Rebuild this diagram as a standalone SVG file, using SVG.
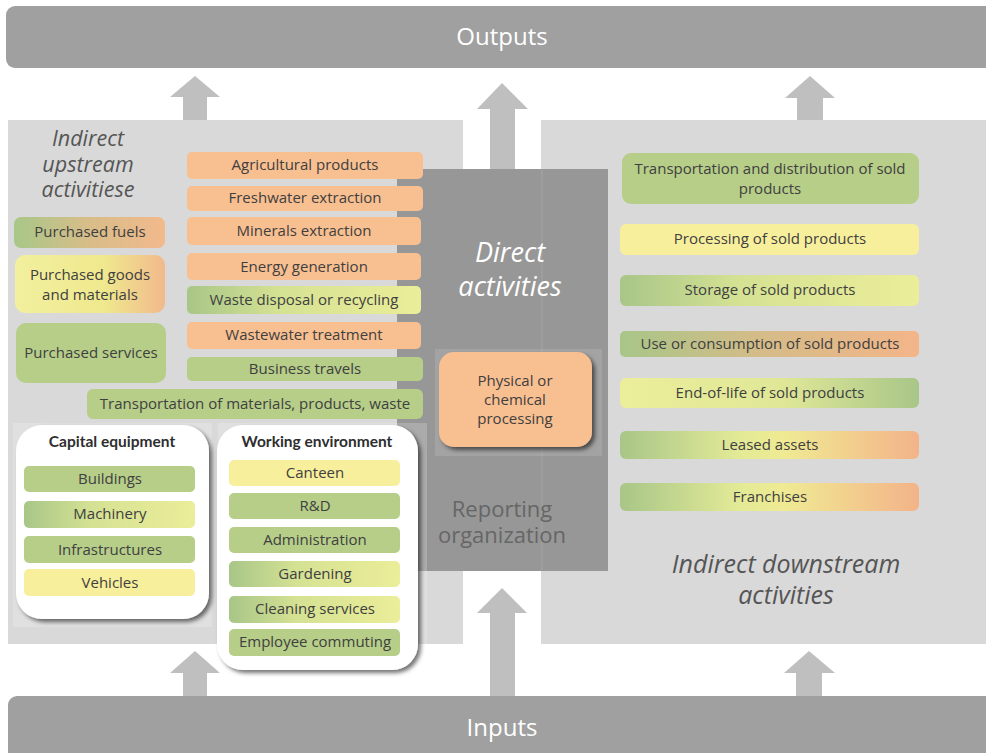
<svg xmlns="http://www.w3.org/2000/svg" width="986" height="753" viewBox="0 0 986 753">
<style>
.t{font-family:"Open Sans","Liberation Sans",sans-serif;font-size:15px;fill:#404040;text-anchor:middle}
.tb{font-family:Lato,"Open Sans","Liberation Sans",sans-serif;font-size:15.5px;font-weight:bold;fill:#2e2e2e;text-anchor:middle}
.big{font-family:"Open Sans","Liberation Sans",sans-serif;font-size:24px;fill:#ffffff;text-anchor:middle}
.it{font-family:"Open Sans","Liberation Sans",sans-serif;font-style:italic;fill:#555555;text-anchor:middle}
.green{fill:#b6ce88}
.orange{fill:#f8bf90}
.yellow{fill:#f8ef9c}
.arrow{fill:#bfbfbf}
.panel{fill:#d9d9d9}
.bar{fill:#a0a0a0}
</style>
<defs>
<linearGradient id="gFuels" x1="0" y1="0" x2="1" y2="0"><stop offset="0" stop-color="#a8c788"/><stop offset="0.5" stop-color="#d8bd89"/><stop offset="1" stop-color="#f2b98c"/></linearGradient>
<linearGradient id="gGoods" x1="0" y1="0" x2="1" y2="0"><stop offset="0" stop-color="#f2f09e"/><stop offset="0.6" stop-color="#efe88e"/><stop offset="1" stop-color="#f2b98c"/></linearGradient>
<linearGradient id="gGY" x1="0" y1="0" x2="1" y2="0"><stop offset="0" stop-color="#a8c688"/><stop offset="0.4" stop-color="#d5e293"/><stop offset="1" stop-color="#ebed99"/></linearGradient>
<linearGradient id="gGO" x1="0" y1="0" x2="1" y2="0"><stop offset="0" stop-color="#a8c688"/><stop offset="0.45" stop-color="#d3bc88"/><stop offset="1" stop-color="#f3b589"/></linearGradient>
<linearGradient id="gYG" x1="0" y1="0" x2="1" y2="0"><stop offset="0" stop-color="#ecee9a"/><stop offset="0.55" stop-color="#dfe797"/><stop offset="1" stop-color="#a8c688"/></linearGradient>
<linearGradient id="gGYO" x1="0" y1="0" x2="1" y2="0"><stop offset="0" stop-color="#a8c688"/><stop offset="0.4" stop-color="#e3ea96"/><stop offset="0.55" stop-color="#f0ea93"/><stop offset="1" stop-color="#f3b389"/></linearGradient>
<filter id="sh" x="-10%" y="-10%" width="130%" height="130%"><feDropShadow dx="3" dy="3" stdDeviation="2" flood-color="#000" flood-opacity="0.55"/></filter>
</defs>

<g id="outputs">
<rect class="bar" x="6" y="6" width="990" height="62" rx="9"/>
<text class="big" x="502" y="45">Outputs</text>
</g>
<g id="inputs">
<rect class="bar" x="8" y="696" width="990" height="70" rx="9"/>
<text class="big" x="502" y="736">Inputs</text>
</g>

<g id="upstream-panel">
<rect class="panel" x="8" y="120" width="455" height="524"/>
<text class="it" font-size="21.5"><tspan x="88" y="146">Indirect</tspan><tspan x="88" y="172">upstream</tspan><tspan x="88" y="197">activitiese</tspan></text>
</g>
<g id="downstream-panel">
<rect class="panel" x="541" y="120" width="450" height="524"/>
<text class="it" font-size="25"><tspan x="786" y="573">Indirect downstream</tspan><tspan x="786" y="604">activities</tspan></text>
</g>

<g id="connectors">
<polygon class="arrow" points="183,120 183,97 170,97 195,76 220,97 207,97 207,120"/>
<polygon class="arrow" points="490,170 490,109 477,109 502,83 528,109 515,109 515,170"/>
<polygon class="arrow" points="797,120 797,98 785,98 810,76 835,98 823,98 823,120"/>
<polygon class="arrow" points="183,696 183,673 170,673 195,651 220,673 207,673 207,696"/>
<polygon class="arrow" points="490,696 490,613 477,613 502,588 527,613 515,613 515,696"/>
<polygon class="arrow" points="796,696 796,673 784,673 809,651 835,673 822,673 822,696"/>
</g>

<g id="reporting-organization">
<rect x="397" y="169" width="211" height="402" fill="#979797"/>
<line x1="542" y1="169" x2="542" y2="571" stroke="#a4a4a4" stroke-width="1"/>
<text class="it" font-size="27" style="fill:#ffffff"><tspan x="510" y="262">Direct</tspan><tspan x="510" y="296">activities</tspan></text>
<text font-family="'Open Sans','Liberation Sans',sans-serif" font-size="22" fill="#666666" text-anchor="middle"><tspan x="502" y="517">Reporting</tspan><tspan x="502" y="543">organization</tspan></text>
</g>

<g id="processing">
<rect x="435" y="349" width="167" height="107" fill="#ffffff" fill-opacity="0.12"/>
<rect class="orange" x="439" y="352" width="153" height="95" rx="15" filter="url(#sh)"/>
<text class="t" font-size="14.5"><tspan x="515" y="386">Physical or</tspan><tspan x="515" y="405">chemical</tspan><tspan x="515" y="424">processing</tspan></text>
</g>

<g id="upstream-items">
<g id="agricultural"><rect class="orange" x="187" y="152" width="236" height="27" rx="5"/><text class="t" x="305" y="170">Agricultural products</text></g>
<g id="freshwater"><rect class="orange" x="187" y="186" width="236" height="25" rx="5"/><text class="t" x="305" y="203">Freshwater extraction</text></g>
<g id="minerals"><rect class="orange" x="187" y="217" width="234" height="28" rx="5"/><text class="t" x="304" y="236">Minerals extraction</text></g>
<g id="energy"><rect class="orange" x="187" y="253" width="234" height="27" rx="5"/><text class="t" x="304" y="272">Energy generation</text></g>
<g id="waste"><rect x="187" y="286" width="234" height="28" rx="5" fill="url(#gGY)"/><text class="t" x="304" y="305">Waste disposal or recycling</text></g>
<g id="wastewater"><rect class="orange" x="187" y="322" width="234" height="27" rx="5"/><text class="t" x="304" y="340">Wastewater treatment</text></g>
<g id="business"><rect class="green" x="187" y="357" width="236" height="24" rx="5"/><text class="t" x="305" y="374">Business travels</text></g>
<g id="transport"><rect class="green" x="87" y="389" width="336" height="30" rx="6"/><text class="t" x="255" y="409">Transportation of materials, products, waste</text></g>
<g id="fuels"><rect x="14" y="217" width="151" height="31" rx="7" fill="url(#gFuels)"/><text class="t" x="90" y="237">Purchased fuels</text></g>
<g id="goods"><rect x="15" y="255" width="150" height="58" rx="10" fill="url(#gGoods)"/><text class="t"><tspan x="90" y="280">Purchased goods</tspan><tspan x="90" y="300">and materials</tspan></text></g>
<g id="services"><rect class="green" x="16" y="323" width="150" height="60" rx="10"/><text class="t" x="91" y="358">Purchased services</text></g>
</g>

<g id="capital-equipment">
<rect x="13" y="423" width="199" height="204" fill="#ffffff" fill-opacity="0.2"/>
<rect x="16" y="425" width="193" height="194" rx="26" fill="#ffffff" filter="url(#sh)"/>
<text class="tb" x="112" y="447">Capital equipment</text>
<rect class="green" x="24" y="466" width="171" height="26" rx="5"/><text class="t" x="110" y="484">Buildings</text>
<rect x="24" y="501" width="171" height="27" rx="5" fill="url(#gGY)"/><text class="t" x="110" y="519">Machinery</text>
<rect class="green" x="24" y="536" width="171" height="27" rx="5"/><text class="t" x="110" y="555">Infrastructures</text>
<rect class="yellow" x="24" y="569" width="171" height="27" rx="5"/><text class="t" x="110" y="588">Vehicles</text>
</g>

<g id="working-environment">
<rect x="218" y="423" width="209" height="255" fill="#ffffff" fill-opacity="0.2"/>
<rect x="217" y="425" width="201" height="245" rx="26" fill="#ffffff" filter="url(#sh)"/>
<text class="tb" x="317" y="447">Working environment</text>
<rect class="yellow" x="229" y="460" width="171" height="26" rx="5"/><text class="t" x="315" y="478">Canteen</text>
<rect class="green" x="229" y="493" width="171" height="26" rx="5"/><text class="t" x="315" y="511">R&amp;D</text>
<rect class="green" x="229" y="527" width="171" height="26" rx="5"/><text class="t" x="315" y="545">Administration</text>
<rect x="229" y="561" width="171" height="26" rx="5" fill="url(#gGY)"/><text class="t" x="315" y="579">Gardening</text>
<rect x="229" y="596" width="171" height="27" rx="5" fill="url(#gGY)"/><text class="t" x="315" y="614">Cleaning services</text>
<rect class="green" x="229" y="629" width="171" height="27" rx="5"/><text class="t" x="315" y="647">Employee commuting</text>
</g>

<g id="downstream-items">
<g id="transport-sold"><rect class="green" x="622" y="153" width="297" height="51" rx="9"/><text class="t"><tspan x="770" y="174">Transportation and distribution of sold</tspan><tspan x="770" y="194">products</tspan></text></g>
<g id="processing-sold"><rect class="yellow" x="620" y="224" width="299" height="31" rx="6"/><text class="t" x="770" y="244">Processing of sold products</text></g>
<g id="storage-sold"><rect x="620" y="275" width="299" height="31" rx="6" fill="url(#gGY)"/><text class="t" x="770" y="295">Storage of sold products</text></g>
<g id="use-sold"><rect x="620" y="331" width="299" height="26" rx="5" fill="url(#gGO)"/><text class="t" x="770" y="349">Use or consumption of sold products</text></g>
<g id="eol-sold"><rect x="620" y="378" width="299" height="30" rx="6" fill="url(#gYG)"/><text class="t" x="770" y="398">End-of-life of sold products</text></g>
<g id="leased"><rect x="620" y="431" width="299" height="28" rx="6" fill="url(#gGYO)"/><text class="t" x="770" y="450">Leased assets</text></g>
<g id="franchises"><rect x="620" y="483" width="299" height="28" rx="6" fill="url(#gGYO)"/><text class="t" x="770" y="502">Franchises</text></g>
</g>
</svg>
